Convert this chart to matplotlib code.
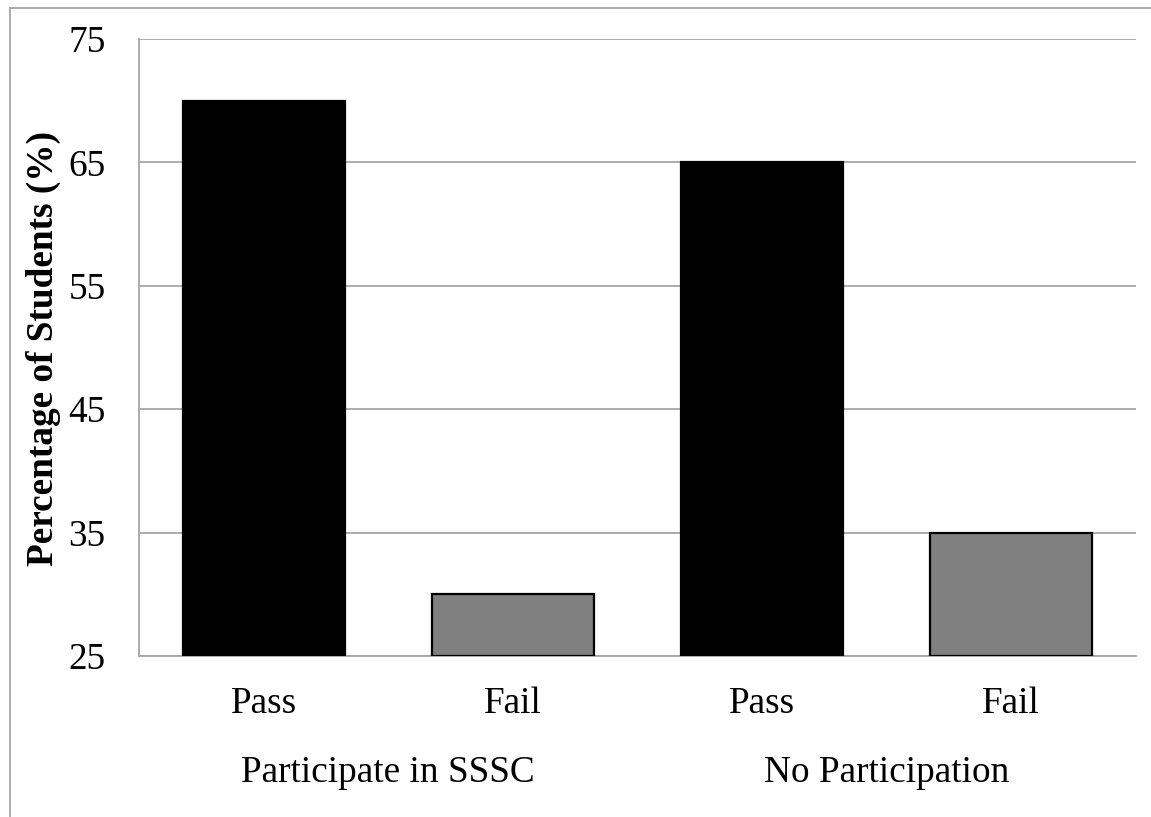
import matplotlib.pyplot as plt
from matplotlib.lines import Line2D
from matplotlib.transforms import blended_transform_factory

plt.rcParams['font.family'] = ['Liberation Serif', 'DejaVu Serif']

# exam outcome by SSSC participation
outcomes = ['Pass', 'Fail', 'Pass', 'Fail']
percent = [70, 30, 65, 35]
groups = ['Participate in SSSC', 'No Participation']
yticks = [25, 35, 45, 55, 65, 75]

colors = ['black', '#808080', 'black', '#808080']
fs = 26.8

fig = plt.figure(figsize=(11.51, 8.17), dpi=100)
ax = fig.add_axes([139 / 1151, 1 - 656 / 817, 997 / 1151, 617 / 817])

x = range(len(outcomes))
ax.bar(x, [p - yticks[0] for p in percent], bottom=yticks[0], width=0.65,
       color=colors, edgecolor='black', linewidth=1.6, zorder=3)

ax.set_xlim(-0.5, 3.5)
ax.set_ylim(yticks[0], yticks[-1])
ax.set_yticks(yticks)
ax.set_xticks(list(x))
ax.set_xticklabels(outcomes)
ax.tick_params(axis='both', length=0, labelsize=fs)
ax.tick_params(axis='y', pad=24)
ax.tick_params(axis='x', pad=22)
ax.yaxis.grid(True, color='#a6a6a6', linewidth=1.3, zorder=0)

for side in ['top', 'right']:
    ax.spines[side].set_visible(False)
for side in ['left', 'bottom']:
    ax.spines[side].set_color('#a6a6a6')
    ax.spines[side].set_linewidth(1.3)

# group names under the Pass/Fail pairs
trans = blended_transform_factory(ax.transData, fig.transFigure)
for i, g in enumerate(groups):
    ax.text(2 * i + 0.5, 1 - 773 / 817, g, transform=trans,
            ha='center', va='center', fontsize=fs)

fig.text(43 / 1151, 1 - 349 / 817, 'Percentage of Students (%)',
         rotation=90, ha='center', va='center', fontsize=fs, fontweight='bold')

# outer chart frame
fx, fy = 9.5 / 1151, 1 - 7.5 / 817
fig.add_artist(Line2D([fx, fx], [0, fy], transform=fig.transFigure,
                      color='#a6a6a6', linewidth=1.3))
fig.add_artist(Line2D([fx, 1], [fy, fy], transform=fig.transFigure,
                      color='#a6a6a6', linewidth=1.3))

fig.savefig('out.png', dpi=100)
